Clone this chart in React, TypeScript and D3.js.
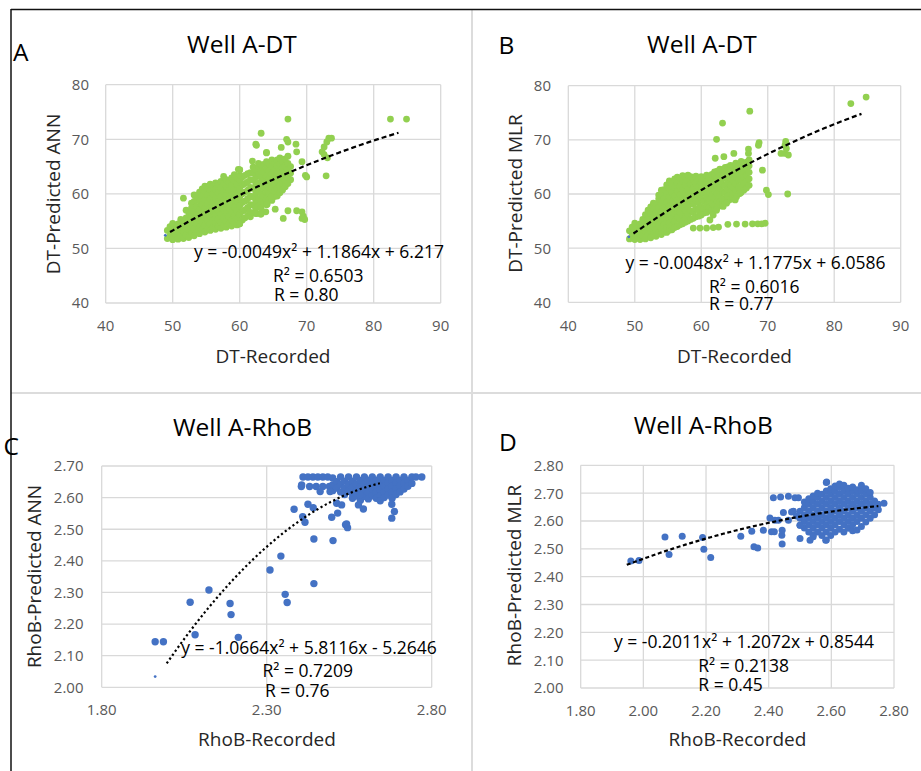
import React from 'react';
import * as d3 from 'd3';

type Pt = [number, number];
type Col = [number, number[]];

// ---------- Panel A (DT, ANN) ----------
const bandA: Col[] = [
  [49.2, [51.8, 53.3]], [49.6, [52.4, 54.0]], [50.0, [51.6, 53.1, 54.6]], [50.4, [52.3, 53.8]],
  [50.8, [51.7, 53.0, 54.5]], [51.2, [52.4, 53.9, 55.3]], [51.6, [51.8, 53.2, 54.7]],
  [52.0, [52.5, 54.0, 55.6, 57.0]], [52.4, [52.0, 53.4, 55.0, 56.5]],
  [52.8, [52.7, 54.2, 55.8, 57.4, 58.3]], [53.2, [52.3, 53.6, 55.2, 56.8, 58.6]],
  [53.6, [53.0, 54.5, 56.1, 57.7, 59.3]], [54.0, [52.7, 54.0, 55.5, 57.1, 58.7, 60.3]],
  [54.4, [53.4, 54.8, 56.4, 58.0, 59.6, 60.9]], [54.8, [53.0, 54.2, 55.7, 57.3, 58.9, 60.5, 61.4]],
  [55.2, [53.6, 55.0, 56.6, 58.2, 59.8, 61.3]], [55.6, [53.3, 54.5, 55.9, 57.5, 59.1, 60.7, 61.8]],
  [56.0, [53.8, 55.2, 56.8, 58.4, 60.0, 61.5]], [56.4, [53.5, 54.6, 56.1, 57.7, 59.3, 60.9, 62.0]],
  [56.8, [54.0, 55.4, 57.0, 58.6, 60.2, 61.7]], [57.2, [53.7, 54.8, 56.3, 57.9, 59.5, 61.1, 62.3]],
  [57.6, [54.2, 55.6, 57.2, 58.8, 60.4, 61.9, 63.2]], [58.0, [53.9, 55.0, 56.5, 58.1, 59.7, 61.3, 62.6]],
  [58.4, [54.4, 55.8, 57.4, 59.0, 60.6, 62.1]], [58.8, [54.1, 55.2, 56.7, 58.3, 59.9, 61.5, 62.9]],
  [59.2, [54.6, 56.0, 57.6, 59.2, 60.8, 62.3, 63.5]], [59.6, [54.3, 55.4, 56.9, 58.5, 60.1, 61.7, 63.0]],
  [60.0, [54.5, 56.2, 57.8, 59.4, 61.0, 62.5, 63.4, 64.4]], [60.4, [55.2, 56.8, 58.4, 60.0, 61.6, 63.1]],
  [60.8, [55.6, 57.1, 58.7, 60.3, 61.9, 63.4]], [61.2, [56.0, 57.5, 59.1, 60.7, 62.2, 63.7]],
  [61.6, [55.8, 56.6, 58.0, 59.6, 61.2, 62.6, 63.9]], [62.0, [56.5, 57.9, 59.4, 61.0, 62.5, 63.8, 64.9]],
  [62.4, [56.4, 57.3, 58.6, 60.1, 61.6, 63.1, 64.4]], [62.8, [57.7, 59.1, 60.5, 62.0, 63.5, 64.8, 65.6]],
  [63.2, [56.3, 57.4, 58.6, 60.0, 61.5, 63.0, 64.3, 65.3]], [63.6, [58.3, 59.6, 61.0, 62.5, 64.0, 65.4]],
  [64.0, [58.0, 59.1, 60.4, 61.8, 63.3, 64.7, 65.9]], [64.4, [58.9, 60.1, 61.4, 62.8, 64.2, 65.5]],
  [64.8, [58.8, 59.6, 60.9, 62.2, 63.6, 65.0, 66.2]], [65.2, [59.5, 60.5, 61.7, 63.0, 64.4, 65.7]],
  [65.6, [59.6, 61.0, 62.3, 63.7, 65.1, 66.2]], [66.0, [60.2, 61.5, 62.8, 64.1, 65.5, 66.6]],
  [66.4, [60.7, 62.0, 63.3, 64.7, 66.0]], [66.8, [61.3, 62.5, 63.8, 65.1, 66.4]],
  [67.2, [61.9, 63.1, 64.3, 65.6, 66.9]], [67.6, [62.6, 63.8, 65.0]],
];
const outliersA: Pt[] = [
  [67.2, 73.7], [82.5, 73.7], [84.9, 73.7], [63.2, 71.1], [67.0, 70.0], [67.2, 69.5],
  [62.4, 69.1], [62.5, 68.9], [64.0, 67.6], [66.2, 68.5], [68.4, 69.1], [68.5, 67.7],
  [73.3, 70.2], [73.7, 70.2], [73.0, 69.5], [72.6, 68.6], [72.3, 67.7], [72.6, 67.2],
  [73.1, 66.6], [69.3, 65.9], [69.8, 63.4], [70.0, 63.1], [72.9, 63.3], [59.8, 64.5],
  [61.9, 66.0], [60.0, 64.4], [64.0, 67.5], [67.2, 56.9], [68.5, 56.9], [69.3, 56.7],
  [69.5, 55.9], [69.3, 55.5], [69.7, 55.3], [66.5, 55.5], [65.3, 57.2], [64.1, 58.1],
  [63.9, 56.7], [62.5, 56.4], [63.1, 56.3], [60.0, 54.5], [51.6, 59.2], [53.2, 59.8],
];
const tinyA: Pt[] = [[48.9, 52.4]];
const trendA = [-0.0049, 1.1864, 6.217];
const trendRangeA: [number, number] = [49.6, 83.7];

// ---------- Panel B (DT, MLR) ----------
const bandB: Col[] = [
  [49.2, [51.7, 53.2]], [49.6, [52.3, 53.9]], [50.0, [51.6, 53.0, 54.6]], [50.4, [52.2, 53.7]],
  [50.8, [51.6, 53.0, 54.5]], [51.2, [52.3, 53.8, 55.3]], [51.6, [51.7, 53.1, 54.6, 56.2]],
  [52.0, [52.4, 53.9, 55.4, 57.0]], [52.4, [51.9, 53.3, 54.8, 56.4, 57.6]],
  [52.8, [52.6, 54.1, 55.7, 57.3, 58.3]], [53.2, [52.2, 53.5, 55.0, 56.6, 58.2]],
  [53.6, [52.8, 54.3, 55.9, 57.5, 59.1, 59.8]], [54.0, [52.5, 53.6, 55.1, 56.7, 58.3, 59.9, 60.7]],
  [54.4, [53.0, 54.4, 56.0, 57.6, 59.2, 60.8]], [54.8, [52.9, 53.8, 55.3, 56.9, 58.5, 60.1, 61.7]],
  [55.2, [53.3, 54.6, 56.2, 57.8, 59.4, 61.0, 62.4]], [55.6, [53.4, 54.1, 55.5, 57.1, 58.7, 60.3, 61.9]],
  [56.0, [53.8, 54.9, 56.4, 58.0, 59.6, 61.2, 62.8]], [56.4, [54.0, 55.7, 57.3, 58.9, 60.5, 62.1, 63.1]],
  [56.8, [54.3, 55.2, 56.6, 58.2, 59.8, 61.4, 62.9]], [57.2, [54.5, 56.0, 57.5, 59.1, 60.7, 62.3, 63.4]],
  [57.6, [54.8, 55.5, 56.9, 58.4, 60.0, 61.6, 63.1]], [58.0, [55.0, 56.3, 57.8, 59.3, 60.9, 62.5, 63.5]],
  [58.4, [55.3, 56.9, 58.6, 60.2, 61.8, 63.2]], [58.8, [55.5, 56.6, 58.1, 59.6, 61.1, 62.7]],
  [59.2, [55.8, 57.3, 58.9, 60.4, 62.0, 63.3]], [59.6, [55.9, 57.0, 58.4, 59.8, 61.3, 62.8]],
  [60.0, [56.1, 57.6, 59.1, 60.6, 62.1, 63.2]], [60.4, [56.5, 57.3, 58.7, 60.1, 61.5, 62.9]],
  [60.8, [56.6, 58.0, 59.4, 60.9, 62.3, 63.5]], [61.2, [56.9, 57.6, 59.0, 60.4, 61.8, 63.1]],
  [61.6, [57.0, 58.3, 59.7, 61.2, 62.6, 63.6]], [62.0, [57.3, 58.0, 59.3, 60.7, 62.1, 63.5, 64.1]],
  [62.4, [57.5, 58.7, 60.1, 61.5, 62.9, 64.2]], [62.8, [57.8, 58.5, 59.7, 61.1, 62.5, 63.8, 64.6]],
  [63.2, [58.1, 59.1, 60.4, 61.8, 63.2, 64.5]], [63.6, [58.4, 59.0, 60.2, 61.5, 62.9, 64.2, 64.9]],
  [64.0, [58.7, 59.6, 60.9, 62.2, 63.6, 65.0]], [64.4, [59.0, 60.3, 61.6, 62.9, 64.3, 65.3]],
  [64.8, [59.3, 60.0, 61.2, 62.5, 63.9, 65.2]], [65.2, [59.7, 60.7, 61.9, 63.2, 64.6, 65.7]],
  [65.6, [60.0, 61.3, 62.6, 63.9, 65.2]], [66.0, [60.3, 61.2, 62.4, 63.6, 64.8, 66.0]],
  [66.4, [60.7, 61.9, 63.1, 64.3, 65.6]], [66.8, [61.1, 62.3, 63.5, 64.7, 65.9]],
  [67.2, [61.6, 62.8, 64.0, 65.2, 66.3]],
];
const outliersB: Pt[] = [
  [82.5, 76.7], [84.8, 77.9], [67.3, 75.3], [63.2, 73.1], [62.3, 70.1], [68.7, 69.5],
  [68.6, 69.0], [67.1, 68.3], [67.1, 67.5], [64.9, 67.5], [63.4, 66.9], [62.1, 66.6],
  [72.0, 67.5], [72.6, 67.5], [73.1, 67.2], [72.8, 68.4], [72.6, 69.0], [72.7, 69.7],
  [69.2, 64.4], [69.8, 60.7], [70.1, 59.9], [73.0, 60.0],
  [58.8, 53.7], [59.8, 53.7], [60.8, 53.7], [61.8, 53.8], [62.6, 53.9], [64.0, 54.4],
  [65.3, 54.45], [66.6, 54.45], [67.7, 54.5], [68.5, 54.5], [69.1, 54.5], [69.6, 54.6],
  [65.8, 60.1], [65.3, 59.5], [65.1, 58.9], [63.8, 58.3], [63.3, 57.7], [62.3, 57.0],
  [61.8, 56.1], [61.3, 55.2],
];
const tinyB: Pt[] = [[49.1, 52.1]];
const trendB = [-0.00587, 1.4303, -3.97];
const trendRangeB: [number, number] = [49.8, 84.1];

// ---------- Panel C (RhoB, ANN) ----------
const massC: Col[] = [
  [2.41, [2.665]], [2.425, [2.665]], [2.44, [2.665]], [2.455, [2.665]], [2.47, [2.665]], [2.485, [2.665]],
  [2.405, [2.635]], [2.43, [2.635]], [2.45, [2.635]], [2.47, [2.635]], [2.49, [2.635]],
  [2.500, [2.662, 2.640, 2.622]], [2.512, [2.650, 2.630]], [2.524, [2.665, 2.642, 2.618]],
  [2.536, [2.652, 2.630, 2.610]], [2.548, [2.665, 2.642, 2.620]], [2.560, [2.652, 2.632, 2.612, 2.598]],
  [2.572, [2.665, 2.643, 2.622, 2.605]], [2.584, [2.654, 2.634, 2.614, 2.592]],
  [2.596, [2.665, 2.644, 2.624, 2.604]], [2.608, [2.655, 2.635, 2.615, 2.596]],
  [2.620, [2.665, 2.645, 2.625, 2.606]], [2.632, [2.655, 2.636, 2.616, 2.598]],
  [2.644, [2.665, 2.645, 2.626, 2.606, 2.590]], [2.656, [2.655, 2.636, 2.617, 2.600]],
  [2.668, [2.665, 2.646, 2.627, 2.608]], [2.680, [2.655, 2.636, 2.617, 2.598]],
  [2.692, [2.665, 2.646, 2.627, 2.610]], [2.704, [2.655, 2.636, 2.618]],
  [2.716, [2.665, 2.645, 2.627]], [2.728, [2.655, 2.636]], [2.740, [2.665, 2.645]],
  [2.752, [2.665]], [2.770, [2.665]],
];
const outliersC: Pt[] = [
  [1.962, 2.144], [1.987, 2.144], [2.083, 2.166], [2.068, 2.269], [2.125, 2.308], [2.189, 2.265],
  [2.192, 2.230], [2.214, 2.158], [2.310, 2.371], [2.343, 2.415], [2.356, 2.294], [2.362, 2.268],
  [2.443, 2.328], [2.443, 2.469], [2.501, 2.464], [2.383, 2.563], [2.409, 2.540], [2.416, 2.522],
  [2.425, 2.579], [2.441, 2.568], [2.497, 2.538], [2.515, 2.551], [2.539, 2.514], [2.545, 2.505],
  [2.542, 2.517], [2.512, 2.582], [2.527, 2.577], [2.679, 2.535], [2.687, 2.556], [2.679, 2.579],
  [2.578, 2.577], [2.593, 2.564], [2.406, 2.640], [2.462, 2.619], [2.492, 2.619], [2.583, 2.609],
];
const tinyC: Pt[] = [[1.962, 2.034]];
const trendC = [-0.978, 5.42, -4.848];
const trendRangeC: [number, number] = [1.997, 2.643];

// ---------- Panel D (RhoB, MLR) ----------
const massD: Col[] = [
  [2.500, [2.585, 2.610, 2.635]],
  [2.514, [2.575, 2.598, 2.622, 2.648, 2.668]],
  [2.528, [2.560, 2.586, 2.610, 2.635, 2.660, 2.680]],
  [2.542, [2.550, 2.574, 2.598, 2.622, 2.648, 2.672, 2.690]],
  [2.556, [2.560, 2.586, 2.610, 2.635, 2.660, 2.684, 2.700]],
  [2.570, [2.548, 2.574, 2.598, 2.622, 2.648, 2.672, 2.696]],
  [2.584, [2.532, 2.560, 2.586, 2.610, 2.635, 2.660, 2.684, 2.708, 2.738]],
  [2.598, [2.548, 2.574, 2.598, 2.622, 2.648, 2.672, 2.696, 2.716]],
  [2.612, [2.560, 2.586, 2.610, 2.635, 2.660, 2.684, 2.708, 2.726]],
  [2.626, [2.570, 2.598, 2.622, 2.648, 2.672, 2.696, 2.720, 2.733]],
  [2.640, [2.560, 2.586, 2.610, 2.635, 2.660, 2.684, 2.708, 2.728]],
  [2.654, [2.574, 2.598, 2.622, 2.648, 2.672, 2.696, 2.718]],
  [2.668, [2.565, 2.586, 2.610, 2.635, 2.660, 2.684, 2.708, 2.722]],
  [2.682, [2.568, 2.598, 2.622, 2.648, 2.672, 2.696, 2.712]],
  [2.696, [2.580, 2.610, 2.635, 2.660, 2.684, 2.708, 2.728]],
  [2.710, [2.596, 2.622, 2.648, 2.672, 2.696, 2.716]],
  [2.724, [2.610, 2.635, 2.660, 2.684, 2.702]],
  [2.738, [2.622, 2.648, 2.672]],
  [2.750, [2.640, 2.660]],
];
const outliersD: Pt[] = [
  [1.960, 2.456], [1.986, 2.458], [2.069, 2.542], [2.082, 2.480], [2.124, 2.545], [2.189, 2.541],
  [2.193, 2.498], [2.215, 2.469], [2.311, 2.545], [2.346, 2.563], [2.353, 2.507], [2.365, 2.503],
  [2.383, 2.567], [2.404, 2.611], [2.409, 2.561], [2.418, 2.561], [2.443, 2.517], [2.442, 2.549],
  [2.443, 2.567], [2.431, 2.603], [2.415, 2.683], [2.438, 2.686], [2.463, 2.689], [2.484, 2.683],
  [2.495, 2.683], [2.447, 2.630], [2.473, 2.632], [2.479, 2.635], [2.489, 2.618], [2.463, 2.603],
  [2.420, 2.603], [2.500, 2.585], [2.500, 2.537], [2.532, 2.531], [2.542, 2.543], [2.582, 2.531],
  [2.585, 2.740], [2.768, 2.664],
];
const trendD = [-0.2011, 1.2072, 0.8544];
const trendRangeD: [number, number] = [1.947, 2.75];

// ---------- Axis ticks ----------
const ticksDTx = [40, 50, 60, 70, 80, 90];
const ticksDTy = [40, 50, 60, 70, 80];
const ticksCx = [1.8, 2.3, 2.8];
const ticksCy = [2.0, 2.1, 2.2, 2.3, 2.4, 2.5, 2.6, 2.7];
const ticksDx = [1.8, 2.0, 2.2, 2.4, 2.6, 2.8];
const ticksDy = [2.0, 2.1, 2.2, 2.3, 2.4, 2.5, 2.6, 2.7, 2.8];

const flat = (cols: Col[]): Pt[] => cols.flatMap(([x, ys]) => ys.map((y) => [x, y] as Pt));

const FONT = "'Open Sans', 'Liberation Sans', sans-serif";
const GREEN = '#92D050';
const BLUE = '#4472C4';

interface PanelProps {
  box: { l: number; r: number; t: number; b: number };
  xDomain: [number, number];
  yDomain: [number, number];
  xTicks: number[];
  yTicks: number[];
  fmt: (v: number) => string;
  points: Pt[];
  tiny: Pt[];
  tinyColor: string;
  color: string;
  r: number;
  trend: number[];
  trendRange: [number, number];
  dash: string;
  title: string;
  titlePos: [number, number];
  letter: string;
  letterPos: [number, number];
  xTitle: string;
  xTitlePos: [number, number];
  yTitle: string;
  yTitlePos: [number, number];
  yTickRight: number;
  xTickBase: number;
  eq: string[];
  eqPos: [number, number, string][];
}

function Panel(p: PanelProps) {
  const x = d3.scaleLinear().domain(p.xDomain).range([p.box.l, p.box.r]);
  const y = d3.scaleLinear().domain(p.yDomain).range([p.box.b, p.box.t]);
  const [a, b, c] = p.trend;
  const xs = d3.range(0, 61).map((i) => p.trendRange[0] + ((p.trendRange[1] - p.trendRange[0]) * i) / 60);
  const line = d3
    .line<number>()
    .x((v) => x(v))
    .y((v) => y(a * v * v + b * v + c));
  return (
    <g>
      {p.xTicks.map((t) => (
        <line key={'gx' + t} x1={x(t)} x2={x(t)} y1={p.box.t} y2={p.box.b} stroke="#d9d9d9" strokeWidth={1.3} />
      ))}
      {p.yTicks.map((t) => (
        <line key={'gy' + t} x1={p.box.l} x2={p.box.r} y1={y(t)} y2={y(t)} stroke="#d9d9d9" strokeWidth={1.3} />
      ))}
      {p.yTicks.map((t) => (
        <text key={'ty' + t} x={p.yTickRight} y={y(t)} dy="0.36em" textAnchor="end" fontSize={15} fill="#595959" fontFamily={FONT}>
          {p.fmt(t)}
        </text>
      ))}
      {p.xTicks.map((t) => (
        <text key={'tx' + t} x={x(t)} y={p.xTickBase} textAnchor="middle" fontSize={15} fill="#595959" fontFamily={FONT}>
          {p.fmt(t)}
        </text>
      ))}
      {p.points.map((d, i) => (
        <circle key={'p' + i} cx={x(d[0])} cy={y(d[1])} r={p.r} fill={p.color} />
      ))}
      {p.tiny.map((d, i) => (
        <circle key={'tn' + i} cx={x(d[0])} cy={y(d[1])} r={1.4} fill={p.tinyColor} />
      ))}
      <path d={line(xs) || ''} fill="none" stroke="#000" strokeWidth={2.2} strokeDasharray={p.dash} />
      {p.eq.map((s, i) => (
        <text key={'eq' + i} x={p.eqPos[i][0]} y={p.eqPos[i][1]} textAnchor={p.eqPos[i][2] as any} fontSize={17.5} fill="#000" fontFamily={FONT}>
          {s}
        </text>
      ))}
      <text x={p.titlePos[0]} y={p.titlePos[1]} textAnchor="middle" fontSize={24.5} fill="#000" fontFamily={FONT}>
        {p.title}
      </text>
      <text x={p.letterPos[0]} y={p.letterPos[1]} fontSize={24.5} fill="#000" fontFamily={FONT}>
        {p.letter}
      </text>
      <text x={p.xTitlePos[0]} y={p.xTitlePos[1]} textAnchor="middle" fontSize={19} fill="#262626" fontFamily={FONT}>
        {p.xTitle}
      </text>
      <text
        transform={`translate(${p.yTitlePos[0]},${p.yTitlePos[1]}) rotate(-90)`}
        textAnchor="middle"
        fontSize={19}
        fill="#262626"
        fontFamily={FONT}
      >
        {p.yTitle}
      </text>
    </g>
  );
}

export default function App() {
  const fInt = d3.format('d');
  const f2 = d3.format('.2f');
  return (
    <svg width={921} height={771} style={{ position: 'absolute', left: 0, top: 0, background: '#fff' }}>
      <rect x={0} y={0} width={921} height={771} fill="#fff" />
      <line x1={472} x2={472} y1={10} y2={771} stroke="#dcdcdc" strokeWidth={2} />
      <line x1={11} x2={921} y1={393} y2={393} stroke="#dcdcdc" strokeWidth={2} />
      <line x1={11} x2={921} y1={9.5} y2={9.5} stroke="#111" strokeWidth={1.5} />
      <line x1={11} x2={11} y1={9} y2={771} stroke="#111" strokeWidth={1.5} />

      <Panel
        box={{ l: 105.7, r: 440.7, t: 84.7, b: 303 }}
        xDomain={[40, 90]}
        yDomain={[40, 80]}
        xTicks={ticksDTx}
        yTicks={ticksDTy}
        fmt={fInt}
        points={[...flat(bandA), ...outliersA]}
        tiny={tinyA}
        tinyColor={BLUE}
        color={GREEN}
        r={3.4}
        trend={trendA}
        trendRange={trendRangeA}
        dash="5,3"
        title="Well A-DT"
        titlePos={[242, 52.5]}
        letter="A"
        letterPos={[13, 61]}
        xTitle="DT-Recorded"
        xTitlePos={[273, 362.5]}
        yTitle="DT-Predicted ANN"
        yTitlePos={[59.5, 194]}
        yTickRight={89}
        xTickBase={331}
        eq={['y = -0.0049x² + 1.1864x + 6.217', 'R² = 0.6503', 'R = 0.80']}
        eqPos={[[319, 257.5, 'middle'], [273, 281.5, 'start'], [274, 300.5, 'start']]}
      />
      <Panel
        box={{ l: 568.3, r: 900.7, t: 85.7, b: 302.3 }}
        xDomain={[40, 90]}
        yDomain={[40, 80]}
        xTicks={ticksDTx}
        yTicks={ticksDTy}
        fmt={fInt}
        points={[...flat(bandB), ...outliersB]}
        tiny={tinyB}
        tinyColor={BLUE}
        color={GREEN}
        r={3.4}
        trend={trendB}
        trendRange={trendRangeB}
        dash="5,3"
        title="Well A-DT"
        titlePos={[702, 52.5]}
        letter="B"
        letterPos={[498.5, 53.5]}
        xTitle="DT-Recorded"
        xTitlePos={[734.5, 362.5]}
        yTitle="DT-Predicted MLR"
        yTitlePos={[521.5, 193.5]}
        yTickRight={551}
        xTickBase={331}
        eq={['y = -0.0048x² + 1.1775x + 6.0586', 'R² = 0.6016', 'R = 0.77']}
        eqPos={[[755.5, 268.5, 'middle'], [709, 292.5, 'start'], [709, 310, 'start']]}
      />
      <Panel
        box={{ l: 101.7, r: 431.7, t: 466, b: 687.3 }}
        xDomain={[1.8, 2.8]}
        yDomain={[2.0, 2.7]}
        xTicks={ticksCx}
        yTicks={ticksCy}
        fmt={f2}
        points={[...flat(massC), ...outliersC]}
        tiny={tinyC}
        tinyColor={BLUE}
        color={BLUE}
        r={3.7}
        trend={trendC}
        trendRange={trendRangeC}
        dash="2.2,2.6"
        title="Well A-RhoB"
        titlePos={[242.5, 435.5]}
        letter="C"
        letterPos={[3.5, 454.5]}
        xTitle="RhoB-Recorded"
        xTitlePos={[267, 745.5]}
        yTitle="RhoB-Predicted ANN"
        yTitlePos={[40.5, 576.5]}
        yTickRight={83.5}
        xTickBase={715}
        eq={['y = -1.0664x² + 5.8116x - 5.2646', 'R² = 0.7209', 'R = 0.76']}
        eqPos={[[309, 653.5, 'middle'], [262.5, 676.5, 'start'], [265, 697, 'start']]}
      />
      <Panel
        box={{ l: 580.7, r: 894, t: 465.3, b: 688 }}
        xDomain={[1.8, 2.8]}
        yDomain={[2.0, 2.8]}
        xTicks={ticksDx}
        yTicks={ticksDy}
        fmt={f2}
        points={[...flat(massD), ...outliersD]}
        tiny={[]}
        tinyColor={BLUE}
        color={BLUE}
        r={3.5}
        trend={trendD}
        trendRange={trendRangeD}
        dash="4,2.6"
        title="Well A-RhoB"
        titlePos={[703.3, 434.3]}
        letter="D"
        letterPos={[499, 450.5]}
        xTitle="RhoB-Recorded"
        xTitlePos={[737.5, 746]}
        yTitle="RhoB-Predicted MLR"
        yTitlePos={[520.5, 575.5]}
        yTickRight={563.5}
        xTickBase={715.5}
        eq={['y = -0.2011x² + 1.2072x + 0.8544', 'R² = 0.2138', 'R = 0.45']}
        eqPos={[[744, 648.3, 'middle'], [698.3, 671.7, 'start'], [698.3, 690.7, 'start']]}
      />
    </svg>
  );
}
